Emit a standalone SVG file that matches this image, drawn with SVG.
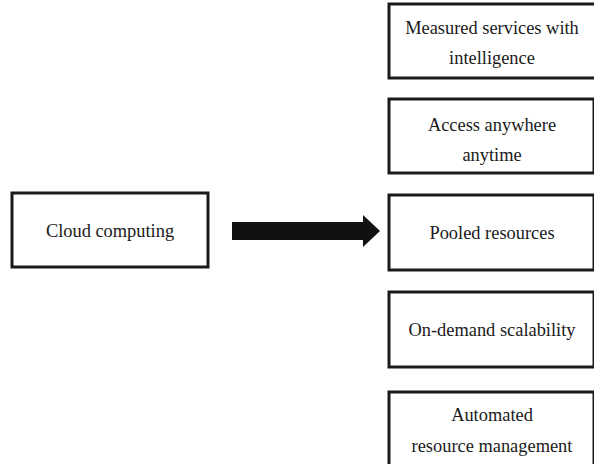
<svg xmlns="http://www.w3.org/2000/svg" width="594" height="464" viewBox="0 0 594 464">
<style>
.box{fill:#fff;stroke:#1a1a1a;stroke-width:3}
.t{font-family:"Liberation Serif","Times New Roman",serif;font-size:18.4px;fill:#1a1a1a;text-anchor:middle}
</style>
<rect width="594" height="464" fill="#fff"/>
<g id="cloud"><rect class="box" x="12" y="193" width="196" height="74"/><text class="t" x="110" y="237">Cloud computing</text></g>
<g id="measured"><rect class="box" x="389" y="4" width="210" height="74"/><text class="t" x="492" y="34">Measured services with</text><text class="t" x="492" y="64">intelligence</text></g>
<g id="access"><rect class="box" x="389" y="99" width="205" height="74"/><text class="t" x="492" y="131">Access anywhere</text><text class="t" x="492" y="161">anytime</text></g>
<g id="pooled"><rect class="box" x="389" y="195" width="205" height="75"/><text class="t" x="492" y="239">Pooled resources</text></g>
<g id="ondemand"><rect class="box" x="389" y="292" width="205" height="75"/><text class="t" x="492" y="336">On-demand scalability</text></g>
<g id="automated"><rect class="box" x="389" y="392" width="205" height="80"/><text class="t" x="492" y="421">Automated</text><text class="t" x="492" y="452">resource management</text></g>
<g id="connectors"><polygon points="232,222 363,222 363,215 380,231 363,247 363,240 232,240" fill="#111"/></g>
</svg>
